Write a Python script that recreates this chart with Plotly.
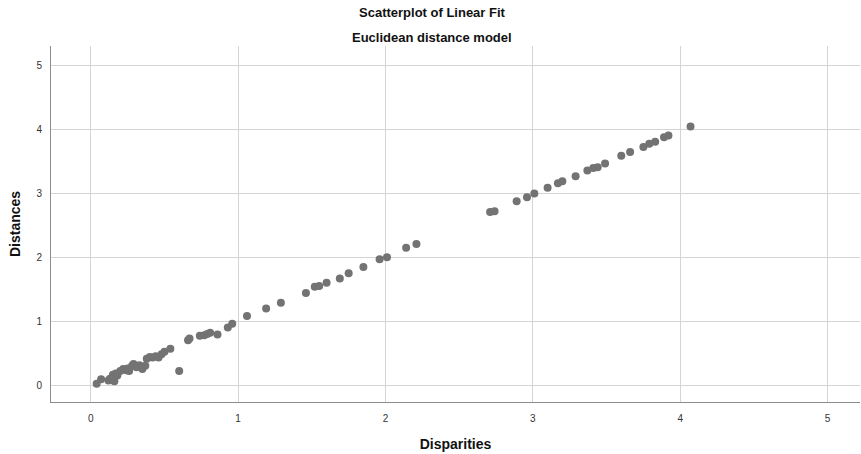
import plotly.graph_objects as go

disparities = [0.04, 0.07, 0.12, 0.13, 0.16, 0.15, 0.17, 0.18, 0.20, 0.22, 0.24, 0.25, 0.26,
               0.28, 0.29, 0.31, 0.33, 0.35, 0.37, 0.38, 0.40, 0.42, 0.44, 0.46, 0.48, 0.50,
               0.54, 0.60, 0.66, 0.67, 0.74, 0.77, 0.79, 0.81, 0.86, 0.93, 0.96, 1.06, 1.19,
               1.29, 1.46, 1.52, 1.55, 1.60, 1.69, 1.75, 1.85, 1.96, 2.01, 2.14, 2.21, 2.71,
               2.74, 2.89, 2.96, 3.01, 3.10, 3.17, 3.20, 3.29, 3.37, 3.41, 3.44, 3.49, 3.60,
               3.66, 3.75, 3.79, 3.83, 3.89, 3.92, 4.07]
distances = [0.02, 0.09, 0.07, 0.10, 0.06, 0.16, 0.18, 0.15, 0.22, 0.25, 0.23, 0.26, 0.22,
             0.30, 0.33, 0.28, 0.31, 0.25, 0.30, 0.41, 0.44, 0.43, 0.45, 0.43, 0.48, 0.52,
             0.57, 0.22, 0.70, 0.73, 0.77, 0.78, 0.80, 0.82, 0.79, 0.90, 0.96, 1.08, 1.20,
             1.29, 1.44, 1.54, 1.55, 1.60, 1.67, 1.75, 1.85, 1.97, 2.00, 2.15, 2.21, 2.71,
             2.72, 2.88, 2.94, 3.00, 3.09, 3.16, 3.19, 3.27, 3.36, 3.40, 3.41, 3.47, 3.59,
             3.65, 3.73, 3.78, 3.81, 3.88, 3.91, 4.05]

tick_vals = [0, 1, 2, 3, 4, 5]
title_main = "Scatterplot of Linear Fit"
title_sub = "Euclidean distance model"
x_title = "Disparities"
y_title = "Distances"

font = "Liberation Sans, Arial, sans-serif"

fig = go.Figure()
fig.add_trace(go.Scatter(
    x=disparities, y=distances, mode="markers",
    marker=dict(size=8, color="#737373", line=dict(width=0)),
    showlegend=False, hoverinfo="x+y"))

fig.update_layout(
    width=861, height=454,
    margin=dict(l=51, r=1, t=46, b=52),
    paper_bgcolor="white", plot_bgcolor="white",
    font=dict(family=font, color="#222222"),
    annotations=[
        dict(text="<b>" + title_main + "</b>", xref="paper", yref="paper",
             x=0.471, y=1, yshift=34, yanchor="middle", showarrow=False,
             font=dict(size=13, family=font, color="#111111")),
        dict(text="<b>" + title_sub + "</b>", xref="paper", yref="paper",
             x=0.471, y=1, yshift=9, yanchor="middle", showarrow=False,
             font=dict(size=13, family=font, color="#111111")),
    ],
)
fig.update_xaxes(
    range=[-0.27, 5.22], tickvals=tick_vals, showgrid=True, gridcolor="#d4d4d4",
    gridwidth=1, zeroline=False, showline=True, linecolor="#8c8c8c", linewidth=1,
    ticks="", ticklabelstandoff=7, tickfont=dict(size=10, family=font, color="#333333"),
    title=dict(text="<b>" + x_title + "</b>", font=dict(size=14, family=font, color="#111111"),
               standoff=16))
fig.update_yaxes(
    range=[-0.266, 5.31], tickvals=tick_vals, showgrid=True, gridcolor="#d4d4d4",
    gridwidth=1, zeroline=False, showline=True, linecolor="#8c8c8c", linewidth=1,
    ticks="", ticklabelstandoff=6, tickfont=dict(size=10, family=font, color="#333333"),
    title=dict(text="<b>" + y_title + "</b>", font=dict(size=14, family=font, color="#111111"),
               standoff=12))

fig.write_html("out.html")
